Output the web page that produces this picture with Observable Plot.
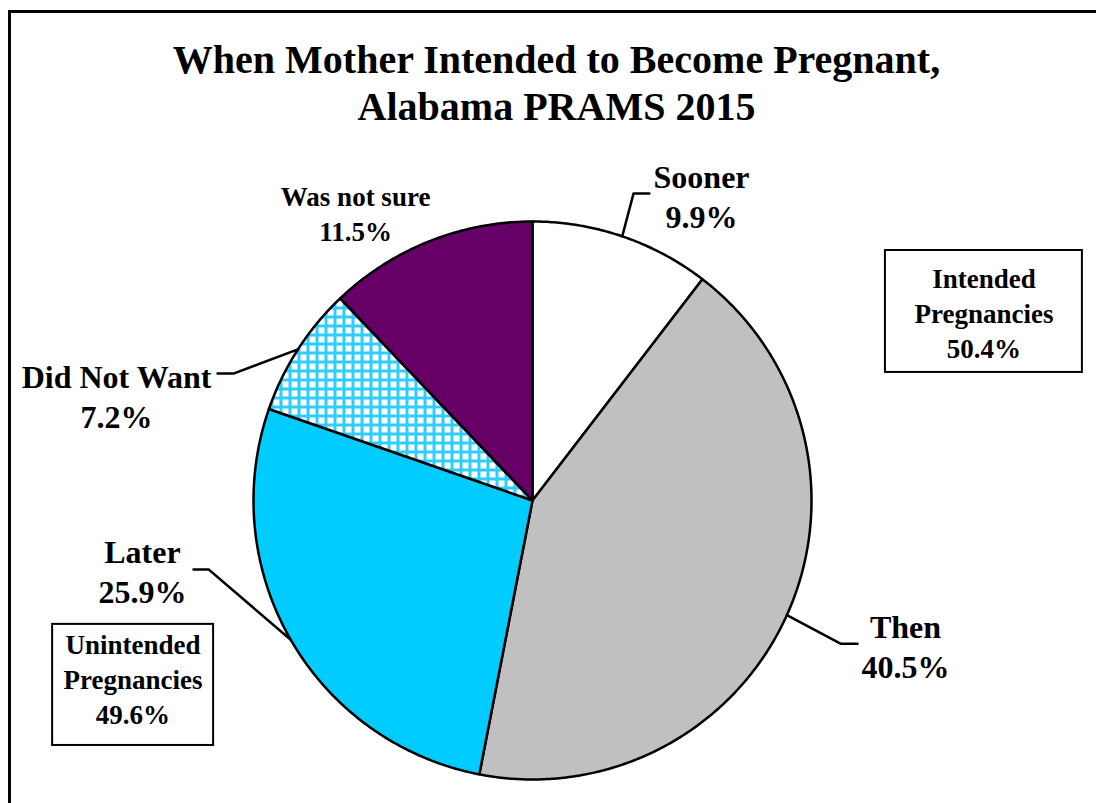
<!DOCTYPE html>
<html><head><meta charset="utf-8">
<script src="https://cdn.jsdelivr.net/npm/d3@7"></script>
<script src="https://cdn.jsdelivr.net/npm/@observablehq/plot@0.6"></script>
<style>
html,body{margin:0;background:#fff;overflow:hidden;width:1096px;height:803px}
.fline{position:absolute;background:#000}
#ftop{left:8px;top:10px;width:1088px;height:3px}
#fleft{left:8px;top:10px;width:3px;height:793px}
#chart{position:absolute;left:0;top:0;width:1096px;height:803px}
</style></head><body>
<div class="fline" id="ftop"></div><div class="fline" id="fleft"></div><div id="chart"></div>
<script>
// ---- data ----
const categories = ["Sooner", "Then", "Later", "Did Not Want", "Was not sure"];
const percents = [9.9, 40.5, 25.9, 7.2, 11.5];
const groupNames = ["Intended\nPregnancies", "Unintended\nPregnancies"];
const groupPercents = [50.4, 49.6];
const titleLines = ["When Mother Intended to Become Pregnant,", "Alabama PRAMS 2015"];

// ---- styles & layout (pie units: radius = 1, centre = 0,0) ----
const sliceFill = ["#FFFFFF", "#C0C0C0", "#00CCFF", "url(#dnw-grid)", "#660066"];
const labelPos = [
  {u: 0.606, v: 1.093, size: 32, lh: 1.25, elbow: [0.362, 1.100], end: [0.419, 1.100]},
  {u: 1.337, v: -0.520, size: 32, lh: 1.25, elbow: [1.104, -0.513], end: [1.165, -0.513]},
  {u: -1.398, v: -0.251, size: 32, lh: 1.25, elbow: [-1.161, -0.247], end: [-1.215, -0.247]},
  {u: -1.491, v: 0.376, size: 32, lh: 1.25, elbow: [-1.072, 0.455], end: [-1.129, 0.455]},
  {u: -0.634, v: 1.032, size: 27, lh: 1.3, elbow: null, end: null}
];
const boxPos = [
  {x1: 1.265, x2: 1.971, y1: 0.896, y2: 0.459, u: 1.618, v: 0.676},
  {x1: -1.720, x2: -1.143, y1: -0.444, y2: -0.878, u: -1.432, v: -0.636}
];
const titlePos = {u: 0.086, v: 1.503};
const font = "'Liberation Serif', 'Times New Roman', serif";

// ---- derived geometry ----
const arcs = d3.pie().sort(null).value(d => d)(percents);
const slicePts = [];
arcs.forEach((a, i) => {
  const n = Math.max(2, Math.ceil((a.endAngle - a.startAngle) / (Math.PI / 360)));
  slicePts.push({k: i, x: 0, y: 0});
  for (let j = 0; j <= n; j++) {
    const t = a.startAngle + (a.endAngle - a.startAngle) * j / n;
    slicePts.push({k: i, x: Math.sin(t), y: Math.cos(t)});
  }
});
const leaderPts = [];
arcs.forEach((a, i) => {
  const L = labelPos[i];
  if (!L.elbow) return;
  const m = (a.startAngle + a.endAngle) / 2;
  leaderPts.push({k: i, x: Math.sin(m), y: Math.cos(m)});
  leaderPts.push({k: i, x: L.elbow[0], y: L.elbow[1]});
  leaderPts.push({k: i, x: L.end[0], y: L.end[1]});
});
const labels = categories.map((c, i) => ({text: `${c}\n${percents[i].toFixed(1)}%`, ...labelPos[i]}));
const boxes = groupNames.map((g, i) => ({text: `${g}\n${groupPercents[i].toFixed(1)}%`, ...boxPos[i]}));

const marks = [];
categories.forEach((c, i) => {
  marks.push(Plot.line(slicePts.filter(d => d.k === i), {
    x: "x", y: "y", curve: "linear-closed", fill: sliceFill[i],
    stroke: "#000", strokeWidth: 2.5, strokeLinejoin: "round"
  }));
});
marks.push(Plot.line(leaderPts, {x: "x", y: "y", z: "k", stroke: "#000", strokeWidth: 2.5}));
[32, 27].forEach(sz => {
  const subset = labels.filter(d => d.size === sz);
  marks.push(Plot.text(subset, {
    x: "u", y: "v", text: "text", fontSize: sz, lineHeight: subset[0].lh,
    fontFamily: font, fontWeight: "bold", fill: "#000"
  }));
});
marks.push(Plot.rect(boxes, {x1: "x1", x2: "x2", y1: "y1", y2: "y2", fill: "#fff", stroke: "#000", strokeWidth: 2}));
marks.push(Plot.text(boxes, {
  x: "u", y: "v", text: "text", fontSize: 27, lineHeight: 1.3,
  fontFamily: font, fontWeight: "bold", fill: "#000"
}));
marks.push(Plot.text([{t: titleLines.join("\n"), ...titlePos}], {
  x: "u", y: "v", text: "t", fontSize: 40, lineHeight: 1.175,
  fontFamily: font, fontWeight: "bold", fill: "#000"
}));

const svg = Plot.plot({
  width: 1096, height: 803, margin: 0,
  style: {background: "transparent", overflow: "visible"},
  x: {domain: [-1, 1], range: [253, 811], axis: null},
  y: {domain: [-1, 1], range: [779, 221], axis: null},
  marks
});

const defs = d3.select(svg).insert("defs", ":first-child");
const pat = defs.append("pattern").attr("id", "dnw-grid")
  .attr("patternUnits", "userSpaceOnUse").attr("width", 9).attr("height", 9);
pat.append("rect").attr("width", 9).attr("height", 9).attr("fill", "#fff");
pat.append("rect").attr("x", 0).attr("y", 0).attr("width", 3).attr("height", 9).attr("fill", "#2ECCFF");
pat.append("rect").attr("x", 0).attr("y", 0).attr("width", 9).attr("height", 3).attr("fill", "#2ECCFF");

document.getElementById("chart").appendChild(svg);
</script>
</body></html>
